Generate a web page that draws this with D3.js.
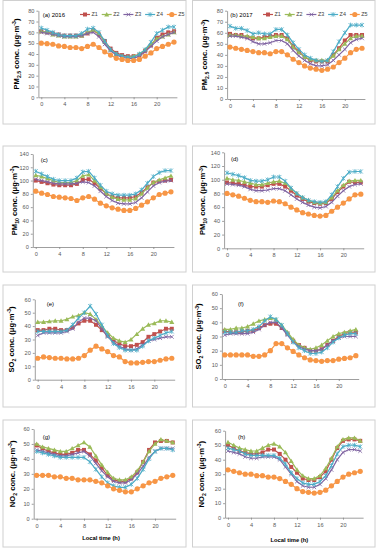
<!DOCTYPE html>
<html><head><meta charset="utf-8">
<script src="https://cdn.jsdelivr.net/npm/d3@7/dist/d3.min.js"></script>
<style>
html,body{margin:0;padding:0;background:#fff;}
svg{display:block;font-family:"Liberation Sans",Arial,sans-serif;}
</style></head>
<body>
<svg id="c" width="378" height="550"></svg>
<script>
// ---------- data ----------
const hours = [0,1,2,3,4,5,6,7,8,9,10,11,12,13,14,15,16,17,18,19,20,21,22,23];
const seriesNames = ["Z1","Z2","Z3","Z4","Z5"];
const xTickLabels = [0,4,8,12,16,20];
const pm25Ticks = [0,10,20,30,40,50,60,70,80];
const pm10Ticks = [0,20,40,60,80,100,120,140];
const gasTicks = [0,10,20,30,40,50,60];

// rows: Z1, Z2, Z3, Z4, Z5
const pm25_2016 = [
  [61,60,59,58,57,57,57,57,59,62,58,52,45,41,39,38,38,39,43,48,55,58,60,61],
  [61,60,58,57,56,56,56,57,60,62,59,51,44,40,38,37,38,40,44,49,54,56,58,60],
  [60,59,58,57,56,56,56,57,59,60,56,49,43,39,37,36,36,38,42,47,52,56,58,60],
  [64,62,60,58,57,57,57,59,63,64,60,52,44,40,38,37,37,40,44,51,59,62,65,65],
  [50,49.5,49,47.5,47,46,46,45,47,49,46,42,39,36,35,34,34,35,38,41,45,47,49,51]
];
const pm25_2017 = [
  [59,58,58,56,55,55,56,57,58,58,55,48,43,38,35,34,34,34,40,46,53,58,58,58],
  [58,58,57,57,56,55,55,56,57,57,54,47,42,38,36,35,35,35,39,45,50,55,57,57],
  [57,57,56,55,52,50,50,51,53,53,50,44,39,35,32,30,30,31,35,40,45,51,54,55],
  [66,64,64,62,59,60,59,59,63,63,58,51,45,40,37,35,34,35,43,52,60,67,67,67],
  [47,46,45,44,43,42,42,41,43,43,40,36,33,30,28,27,26,27,29,33,37,42,45,46]
];
const pm10_2016 = [
  [100,98,96,94,93,93,93,95,101,102,96,88,80,76,74,74,74,76,82,90,97,99,100,101],
  [108,106,103,100,97,97,97,100,107,109,100,90,80,75,72,71,71,73,80,89,97,101,104,107],
  [102,100,98,96,95,95,95,96,98,97,92,84,76,70,66,65,65,67,74,83,92,97,99,100],
  [114,110,106,102,100,100,100,104,113,114,104,93,84,80,78,78,78,80,86,96,106,112,115,115],
  [84,81,79,76,75,74,73,70,74,76,72,66,62,59,57,55,55,58,63,68,74,79,81,83]
];
const pm10_2017 = [
  [96,95,94,92,90,90,90,92,94,94,90,84,77,72,68,66,65,66,72,82,90,97,96,96],
  [102,100,99,97,95,93,93,95,97,98,95,87,80,74,70,67,66,67,74,84,92,98,99,99],
  [94,93,92,90,86,84,84,85,87,87,84,78,72,67,63,60,59,61,67,76,84,90,93,94],
  [110,108,106,103,99,98,98,100,104,104,98,88,80,74,70,68,67,68,78,90,102,111,112,112],
  [80,78,76,73,70,68,68,67,69,68,65,60,56,52,50,48,47,48,54,60,66,72,78,79]
];
const so2_2016 = [
  [37,37,38,38,37,37,39,42,44,44,41,37,33,29,27,25,25,26,28,32,34,36,38,38],
  [43,43,43.5,44,44,45,47,48,50,49,45,40,35,31,29,28,30,34,38,41,42,44,44,43],
  [33,35,35,35,35,36,38,43,46,46,44,38,32,28,25,23,22,23,26,29,30,31,32,32],
  [36,36,36,36,36,37,41,46,50,55,49,41,33,27,24,22,22,22,25,29,31,33,35,36],
  [16,17,16.5,16,16,15.5,15.5,16,18,22,25,23,21,18,17,13.5,12.5,12.5,13,13.5,13.5,14.5,15.5,16]
];
const so2_2017 = [
  [34,33,33,33,34,34,36,38,39,39,36,32,27,24,22,20,20,21,24,27,30,32,33,33],
  [35,35,36,36,37,39,41,42,43,42,38,33,28,24,22,21,22,24,27,30,32,33,34,35],
  [31,32,32,32,32,33,35,38,40,40,36,31,26,23,21,20,20,21,24,27,29,30,30,30],
  [33,33,33,34,34,35,37,41,44,42,38,32,26,22,20,18,18,19,22,26,29,31,32,32],
  [17,17,17,17,17,16,16,17,20,25,25,22,19.5,17,15,13.5,13,12.5,13,13,14,14.5,15,16.5]
];
const no2_2016 = [
  [49,47,45,44,43,43,44,46,46,43,39,34,29,26,25,25,27,31,38,46,51,52,52,51],
  [50,48,47,46,45,45,47,49,51,48,42,36,31,27,26,26,28,32,38,45,50,53,52,51],
  [46,45,44,43,42,42,43,44,45,42,37,32,28,25,24,24,26,30,35,41,45,47,47,47],
  [45,44,43,42,41,41,41,41,41,38,33,28,24,22,21,21,23,27,33,40,45,47,47,46],
  [29,29,29,28,28,27,27,26,26,26,25,24,22,20,19,18,18,20,22,24,25,27,28,29]
];
const no2_2017 = [
  [50,48,46,45,44,44,45,47,47,44,40,35,31,27,26,26,28,32,40,48,53,54,54,53],
  [52,50,48,47,46,46,48,50,51,49,45,39,33,29,27,27,29,34,41,49,54,55,55,53],
  [46,45,44,42,41,41,42,42,42,40,35,30,25,22,21,21,23,27,33,40,45,47,47,46],
  [48,47,46,44,43,43,43,43,43,41,37,31,27,24,23,23,25,29,36,44,49,50,50,49],
  [33,32,31,30,30,29,29,28,28,27,25,23,20,18,17.5,17,17.5,19,22,25,28,30,31,32]
];

// ---------- styles / layout ----------
const colors = ["#C0504D","#9BBB59","#8064A2","#4BACC6","#F79646"];
const markers = ["square","triangle","x","star","circle"];

const panels = [
  {data:pm25_2016, ticks:pm25Ticks, sp:"PM", sub:"2.5", tag:"(a) 2016", legend:true,
   box:[3,0.5,186,124], xl:38.4, xr:176.9, yt:10.7, yb:97.3, ylx:19, tagx:42.7, tagy:15, legx:80},
  {data:pm25_2017, ticks:pm25Ticks, sp:"PM", sub:"2.5", tag:"(b) 2017", legend:true,
   box:[192.5,0.5,375,124], xl:227.1, xr:364.9, yt:10.7, yb:99, ylx:207.3, tagx:230.3, tagy:15, legx:263},
  {data:pm10_2016, ticks:pm10Ticks, sp:"PM", sub:"10", tag:"(c)",
   box:[3,146,186,272], xl:32.8, xr:173.9, yt:154, yb:247, ylx:16.7, tagx:40.7, tagy:160},
  {data:pm10_2017, ticks:pm10Ticks, sp:"PM", sub:"10", tag:"(d)",
   box:[192.5,146,375,272], xl:224.1, xr:363.7, yt:152.3, yb:248.3, ylx:205.3, tagx:231, tagy:159},
  {data:so2_2016, ticks:gasTicks, sp:"SO", sub:"2", tag:"(e)",
   box:[3,285,186,407], xl:34.8, xr:174.7, yt:299.3, yb:379.7, ylx:14, tagx:46.7, tagy:304},
  {data:so2_2017, ticks:gasTicks, sp:"SO", sub:"2", tag:"(f)",
   box:[192.5,285,375,407], xl:221.9, xr:358.7, yt:294, yb:379, ylx:201.3, tagx:238, tagy:304.3},
  {data:no2_2016, ticks:gasTicks, sp:"NO", sub:"2", tag:"(g)", xtitle:"Local time (h)",
   box:[3,420,186,547], xl:33.7, xr:175.7, yt:429, yb:518.7, ylx:15, tagx:42.7, tagy:437.3, xtx:101, xty:538},
  {data:no2_2017, ticks:gasTicks, sp:"NO", sub:"2", tag:"(h)", xtitle:"Local time (h)",
   box:[192.5,420,375,547], xl:225.1, xr:363.1, yt:430.7, yb:517.7, ylx:203.7, tagx:238, tagy:437.3, xtx:289.3, xty:540}
];

const svg = d3.select("#c");

function drawMarker(g, type, color, cx, cy) {
  if (type === "square") {
    g.append("rect").attr("x", cx-2).attr("y", cy-2).attr("width", 4).attr("height", 4).attr("fill", color);
  } else if (type === "triangle") {
    g.append("path").attr("d", `M${cx},${cy-2.5}L${cx+2.5},${cy+1.9}L${cx-2.5},${cy+1.9}Z`).attr("fill", color);
  } else if (type === "x") {
    const r = 1.9;
    g.append("path").attr("d", `M${cx-r},${cy-r}L${cx+r},${cy+r}M${cx-r},${cy+r}L${cx+r},${cy-r}`)
      .attr("stroke", color).attr("stroke-width", 0.8).attr("fill", "none");
  } else if (type === "star") {
    const r = 2;
    g.append("path").attr("d", `M${cx-r},${cy-r}L${cx+r},${cy+r}M${cx-r},${cy+r}L${cx+r},${cy-r}M${cx},${cy-r-0.4}L${cx},${cy+r+0.4}`)
      .attr("stroke", color).attr("stroke-width", 0.8).attr("fill", "none");
  } else {
    g.append("circle").attr("cx", cx).attr("cy", cy).attr("r", 2.6).attr("fill", color);
  }
}

panels.forEach(p => {
  const g = svg.append("g");
  const [bx0, by0, bx1, by1] = p.box;
  g.append("rect").attr("x", bx0).attr("y", by0).attr("width", bx1-bx0).attr("height", by1-by0)
    .attr("fill", "#fff").attr("stroke", "#D0D0D0").attr("stroke-width", 1);

  const x = d3.scaleLinear().domain([-0.5, 23.5]).range([p.xl, p.xr]);
  const ymax = p.ticks[p.ticks.length-1];
  const y = d3.scaleLinear().domain([0, ymax]).range([p.yb, p.yt]);

  // y axis
  const ya = g.append("g").attr("transform", `translate(${p.xl},0)`)
    .call(d3.axisLeft(y).tickValues(p.ticks).tickSize(2).tickPadding(2).tickSizeOuter(0));
  ya.select(".domain").attr("stroke", "#868686").attr("stroke-width", 0.8);
  ya.selectAll(".tick line").attr("stroke", "#868686").attr("stroke-width", 0.8);
  ya.selectAll("text").attr("font-size", 5.6).attr("fill", "#595959").attr("font-family", "Liberation Sans, Arial, sans-serif");

  // x axis
  const xa = g.append("g").attr("transform", `translate(0,${p.yb})`)
    .call(d3.axisBottom(x).tickValues(xTickLabels).tickSize(2).tickPadding(3).tickSizeOuter(0));
  xa.select(".domain").attr("stroke", "#868686").attr("stroke-width", 0.8);
  xa.selectAll(".tick line").attr("stroke", "#868686").attr("stroke-width", 0.8);
  xa.selectAll("text").attr("font-size", 5.6).attr("fill", "#595959").attr("font-family", "Liberation Sans, Arial, sans-serif");

  // series
  p.data.forEach((vals, si) => {
    const line = d3.line().x((d, i) => x(hours[i])).y(d => y(d));
    g.append("path").datum(vals).attr("d", line).attr("fill", "none")
      .attr("stroke", colors[si]).attr("stroke-width", 1.2);
    const mg = g.append("g");
    vals.forEach((v, i) => drawMarker(mg, markers[si], colors[si], x(hours[i]), y(v)));
  });

  // y label
  const ymid = (p.yt + p.yb) / 2;
  const t = g.append("text").attr("transform", `translate(${p.ylx},${ymid}) rotate(-90)`)
    .attr("text-anchor", "middle").attr("font-size", 7.6).attr("font-weight", "bold").attr("fill", "#000");
  t.append("tspan").text(p.sp);
  t.append("tspan").attr("font-size", 5.2).attr("dy", 1.8).text(p.sub);
  t.append("tspan").attr("dy", -1.8).text(" conc. (μg·m");
  t.append("tspan").attr("font-size", 5.2).attr("dy", -2.6).text("-3");
  t.append("tspan").attr("dy", 2.6).text(")");

  // tag
  g.append("text").attr("x", p.tagx).attr("y", p.tagy).attr("dy", "0.35em")
    .attr("font-size", 6).attr("fill", "#000").text(p.tag);

  if (p.xtitle) {
    g.append("text").attr("x", p.xtx).attr("y", p.xty).attr("dy", "0.35em").attr("text-anchor", "middle")
      .attr("font-size", 5.8).attr("font-weight", "bold").attr("fill", "#000").text(p.xtitle);
  }

  if (p.legend) {
    const ly = p.tagy - 0.5;
    seriesNames.forEach((name, si) => {
      const lx = p.legx + si * 21.7;
      g.append("line").attr("x1", lx).attr("x2", lx + 10).attr("y1", ly).attr("y2", ly)
        .attr("stroke", colors[si]).attr("stroke-width", 1.2);
      drawMarker(g, markers[si], colors[si], lx + 5, ly);
      g.append("text").attr("x", lx + 11.5).attr("y", ly).attr("dy", "0.35em")
        .attr("font-size", 5.4).attr("fill", "#404040").text(name);
    });
  }
});
</script>
</body></html>
